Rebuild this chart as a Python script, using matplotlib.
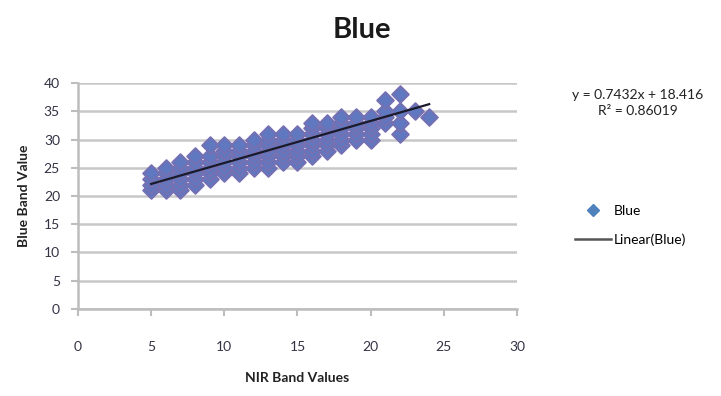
import matplotlib
matplotlib.use("Agg")
import matplotlib.pyplot as plt
from matplotlib.lines import Line2D

plt.rcParams['font.family'] = ['Lato', 'DejaVu Sans']

# NIR band value -> list of Blue band values observed
nir_values = [5, 6, 7, 8, 9, 10, 11, 12, 13, 14, 15, 16, 17, 18, 19, 20, 21, 22, 23, 24]
blue_values = [
    [21, 22, 23, 24],
    [21, 22, 23, 24, 25],
    [21, 22, 23, 24, 25, 26],
    [22, 23, 24, 25, 26, 27],
    [23, 24, 25, 26, 27, 29],
    [24, 25, 26, 27, 28, 29],
    [24, 25, 26, 27, 28, 29],
    [25, 26, 27, 28, 29, 30],
    [25, 26, 27, 28, 29, 30, 31],
    [26, 27, 28, 29, 30, 31],
    [26, 27, 28, 29, 30, 31],
    [27, 28, 29, 30, 31, 32, 33],
    [28, 29, 30, 31, 32, 33],
    [29, 30, 31, 32, 33, 34],
    [30, 31, 32, 33, 34],
    [30, 31, 32, 33, 34],
    [33, 34, 35, 37],
    [31, 33, 35, 38],
    [35],
    [34],
]
slope = 0.7432
intercept = 18.416
r_squared = 0.86019
x_ticks = [0, 5, 10, 15, 20, 25, 30]
y_ticks = [0, 5, 10, 15, 20, 25, 30, 35, 40]

xs = []
ys = []
for xv, yl in zip(nir_values, blue_values):
    for yv in yl:
        xs.append(xv)
        ys.append(yv)

fig = plt.figure(figsize=(7.21, 3.96), dpi=100)
ax = fig.add_axes([0.1082, 0.2197, 0.717 - 0.1082, 0.7904 - 0.2197])

ax.set_xlim(0, 30)
ax.set_ylim(0, 40)
ax.set_xticks(x_ticks)
ax.set_yticks(y_ticks)
ax.yaxis.grid(True, color='#c8c8c8', linewidth=1.8)
ax.set_axisbelow(True)
for s in ['top', 'right']:
    ax.spines[s].set_visible(False)
for s in ['left', 'bottom']:
    ax.spines[s].set_color('#bdbdbd')
    ax.spines[s].set_linewidth(1.8)
ax.tick_params(axis='both', colors='#bdbdbd', length=5, width=1.5, labelsize=10, labelcolor='#333344')
ax.tick_params(axis='x', pad=18)
ax.tick_params(axis='y', pad=8)

ax.scatter(xs, ys, marker='D', s=72, facecolor='#5f78c0', edgecolor='#7670b2', linewidth=1.4, zorder=3)

lx = [min(nir_values), max(nir_values)]
ly = [slope * v + intercept for v in lx]
ax.plot(lx, ly, color='#1a1a2a', linewidth=1.6, zorder=4)

fig.text(0.502, 0.925, 'Blue', ha='center', va='center', fontsize=21, fontweight='bold', color='#1a1a1a')
ax.set_xlabel('NIR Band Values', fontsize=10, fontweight='bold', color='#222222', labelpad=14)
ax.set_ylabel('Blue Band Value', fontsize=10, fontweight='bold', color='#222222', labelpad=10)

fig.text(0.885, 0.76, f'y = {slope}x + {intercept}', ha='center', va='center', fontsize=10, color='#222222')
fig.text(0.885, 0.72, f'R² = {r_squared}', ha='center', va='center', fontsize=10, color='#222222')

handles = [
    Line2D([], [], marker='D', linestyle='none', markersize=6, markerfacecolor='#4F81BD', markeredgecolor='#4F81BD'),
    Line2D([], [], color='#555555', linewidth=1.8),
]
fig.legend(handles, ['Blue', 'Linear(Blue)'], loc='center left', bbox_to_anchor=(0.78, 0.43),
           frameon=False, fontsize=10, handlelength=2.6, labelspacing=1.2, handletextpad=0.2)

fig.savefig('out.png', dpi=100)
